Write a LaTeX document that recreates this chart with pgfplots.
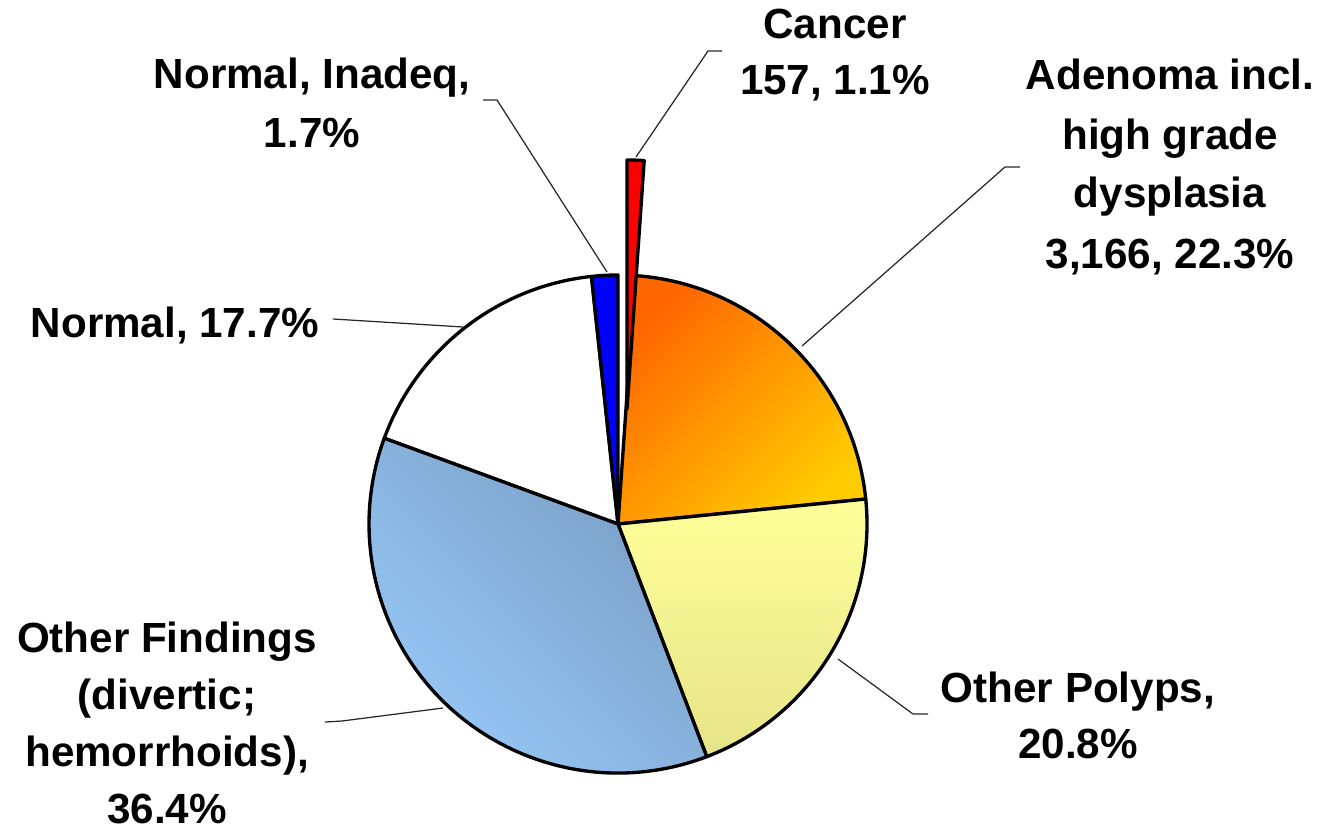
\documentclass[border=0pt]{standalone}
\usepackage{pgfplots}
\pgfplotsset{compat=1.18}
\usepackage{pgfplotstable}
\usepackage{fontspec}
\setmainfont{Liberation Sans}
\definecolor{adeA}{HTML}{FF6600}
\definecolor{adeB}{HTML}{FFCC00}
\definecolor{polA}{HTML}{FFFF99}
\definecolor{polB}{HTML}{E6E488}
\definecolor{finA}{HTML}{7A9EC4}
\definecolor{finB}{HTML}{98CAFA}
\pgfplotstableread{
label value
Cancer 1.1
Adenoma 22.3
Polyps 20.8
Findings 36.4
Normal 17.7
Inadeq 1.7
}\piedata
\begin{document}
\begin{tikzpicture}
\pgfplotstablegetelem{0}{value}\of\piedata \let\vA\pgfplotsretval
\pgfplotstablegetelem{1}{value}\of\piedata \let\vB\pgfplotsretval
\pgfplotstablegetelem{2}{value}\of\piedata \let\vC\pgfplotsretval
\pgfplotstablegetelem{3}{value}\of\piedata \let\vD\pgfplotsretval
\pgfplotstablegetelem{4}{value}\of\piedata \let\vE\pgfplotsretval
\pgfplotstablegetelem{5}{value}\of\piedata \let\vF\pgfplotsretval
\pgfmathsetmacro\aO{90}
\pgfmathsetmacro\aA{\aO-3.6*\vA}
\pgfmathsetmacro\aB{\aA-3.6*\vB}
\pgfmathsetmacro\aC{\aB-3.6*\vC}
\pgfmathsetmacro\aD{\aC-3.6*\vD}
\pgfmathsetmacro\aE{\aD-3.6*\vE}
\pgfmathsetmacro\aF{\aE-3.6*\vF}
\def\R{2.49cm}
\tikzset{lbl/.style={anchor=base, inner sep=0pt, font=\fontsize{12}{15}\selectfont\bfseries},
  wedge/.style={draw=black, line width=0.95pt, line join=round},
  lead/.style={black!85, line width=0.35pt}}
\begin{axis}[hide axis, scale only axis, width=13.17cm, height=8.33cm,
  xmin=0, xmax=1317, ymin=0, ymax=833, clip=false]
% slices (centre at 618,309 in axis units)
\path[wedge, fill=white] (axis cs:618,309) -- ++(\aD:\R) arc[start angle=\aD, end angle=\aE, radius=\R] -- cycle;
\path[wedge, top color=adeA, bottom color=adeB, shading angle=45] (axis cs:618,309) -- ++(\aA:\R) arc[start angle=\aA, end angle=\aB, radius=\R] -- cycle;
\path[wedge, top color=polA, bottom color=polB] (axis cs:618,309) -- ++(\aB:\R) arc[start angle=\aB, end angle=\aC, radius=\R] -- cycle;
\path[wedge, top color=finA, bottom color=finB, shading angle=-45] (axis cs:618,309) -- ++(\aC:\R) arc[start angle=\aC, end angle=\aD, radius=\R] -- cycle;
\path[wedge, fill=blue] (axis cs:618,309) -- ++(\aE:\R) arc[start angle=\aE, end angle=\aF, radius=\R] -- cycle;
% exploded cancer slice
\path[wedge, fill=red] (axis cs:627,424) -- ++(\aO:\R) arc[start angle=\aO, end angle=\aA, radius=\R] -- cycle;
% leader lines
\addplot[lead] coordinates {(636,676) (708,782) (722,782)};
\addplot[lead] coordinates {(802,487) (1005,666) (1020,666)};
\addplot[lead] coordinates {(607,561) (497,733) (483,733)};
\addplot[lead] coordinates {(463,506) (333,514)};
\addplot[lead] coordinates {(443,125) (342,112) (325,111)};
\addplot[lead] coordinates {(838,174) (913,119) (928,119)};
% labels
\node[lbl] at (axis cs:835,794) {Cancer};
\node[lbl] at (axis cs:835,738) {157, 1.1\%};
\node[lbl] at (axis cs:1170,743) {Adenoma incl.};
\node[lbl] at (axis cs:1170,684) {high grade};
\node[lbl] at (axis cs:1170,625) {dysplasia};
\node[lbl] at (axis cs:1170,565) {3,166, 22.3\%};
\node[lbl] at (axis cs:312,744) {Normal, Inadeq,};
\node[lbl] at (axis cs:312,685) {1.7\%};
\node[lbl] at (axis cs:175,496) {Normal, 17.7\%};
\node[lbl] at (axis cs:167,181) {Other Findings};
\node[lbl] at (axis cs:167,124) {(divertic;};
\node[lbl] at (axis cs:167,67) {hemorrhoids),};
\node[lbl] at (axis cs:167,10) {36.4\%};
\node[lbl] at (axis cs:1078,131) {Other Polyps,};
\node[lbl] at (axis cs:1078,75) {20.8\%};
\end{axis}
\pgfresetboundingbox
\path (0,0) rectangle (13.17cm,8.33cm);
\end{tikzpicture}
\end{document}
